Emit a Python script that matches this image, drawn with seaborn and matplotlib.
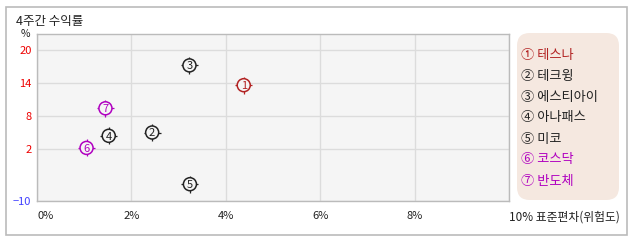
import matplotlib
matplotlib.use("Agg")
import matplotlib.pyplot as plt
import seaborn as sns
import pandas as pd
from matplotlib.patches import FancyBboxPatch, Rectangle

# ---- data ----
names = ["테스나", "테크윙", "에스티아이", "아나패스", "미코", "코스닥", "반도체"]
nums = ["1", "2", "3", "4", "5", "6", "7"]
circled = ["①", "②", "③", "④", "⑤", "⑥", "⑦"]
std_dev = [4.38, 2.44, 3.23, 1.52, 3.24, 1.05, 1.45]      # % (x)
returns = [13.6, 5.0, 17.2, 4.4, -4.4, 2.2, 9.4]          # % (y)
colors = ["#b22222", "#222222", "#222222", "#222222", "#222222", "#b000c0", "#b000c0"]
xticks = [0, 2, 4, 6, 8, 10]
xtick_labels = ["0%", "2%", "4%", "6%", "8%", "10% 표준편차(위험도)"]
ytick_vals = [20, 14, 8, 2]
ytick_labels = ["20", "14", "8", "2", "−10"]
title = "4주간 수익률"

sns.set_theme(style="white")
plt.rcParams["font.family"] = ["Noto Sans CJK KR", "DejaVu Sans"]

W, H = 638, 242
fig = plt.figure(figsize=(W / 100, H / 100), dpi=100)
fig.patch.set_facecolor("white")

def fx(px):
    return px / W

def fy(py):
    return 1 - py / H

# outer frame
fig.patches.append(Rectangle((fx(6), fy(235)), fx(621), 228 / H, transform=fig.transFigure,
                             fill=False, edgecolor="#bbbbbb", linewidth=1.2))

ax = fig.add_axes([fx(37), fy(201), fx(509 - 37), (201 - 34) / H])
ax.set_facecolor("#f5f5f5")

ymin = 2 - 52 / 5.5
ymax = 20 + 16 / 5.5
ax.set_xlim(0, 10)
ax.set_ylim(ymin, ymax)

df = pd.DataFrame({"x": std_dev, "y": returns, "name": names, "num": nums})
pal = dict(zip(names, colors))

# tick crosses behind
sns.scatterplot(data=df, x="x", y="y", hue="name", palette=pal, marker="+", s=150,
                linewidth=0.9, legend=False, ax=ax, zorder=3)
# circles
sns.scatterplot(data=df, x="x", y="y", hue="name", palette=pal, marker="o", s=88,
                facecolor="#f5f5f5", linewidth=1.1, legend=False, ax=ax, zorder=4)
for c in ax.collections[1:]:
    c.set_facecolor("#f5f5f5")
    c.set_edgecolor([colors[i] for i in range(len(names))])
for i in range(len(names)):
    ax.text(std_dev[i], returns[i], nums[i], ha="center", va="center_baseline",
            fontsize=8, color=colors[i], zorder=5)

ax.set_xticks(xticks)
ax.set_xticklabels(xtick_labels, fontsize=8, color="#222222")
lbls = ax.get_xticklabels()
lbls[0].set_ha("left")
lbls[-1].set_ha("left")
lbls[-1].set_fontsize(8.5)
lbls[-1].set_x(9.95)

ax.set_yticks(ytick_vals + [ymin])
ax.set_yticklabels(ytick_labels, fontsize=8)
for t, v in zip(ax.get_yticklabels(), ytick_vals + [ymin]):
    t.set_color("#ee0000" if v > 0 else "#4040ff")

ax.tick_params(axis="x", length=0, pad=7)
ax.tick_params(axis="y", length=0, pad=4)
ax.set_xlabel("")
ax.set_ylabel("")
ax.grid(True, color="#dcdcdc", linewidth=1)
ax.set_axisbelow(True)
for s in ax.spines.values():
    s.set_color("#bbbbbb")
    s.set_linewidth(1)

fig.text(fx(25), fy(34), "%", fontsize=7.5, ha="center", va="center", color="#222222")
fig.text(fx(16), fy(21), title, fontsize=9, ha="left", va="center", color="#222222")

# legend box
fig.patches.append(FancyBboxPatch((fx(517), fy(200)), fx(619 - 517), (200 - 33) / H,
                                  boxstyle="round,pad=0,rounding_size=0.02",
                                  transform=fig.transFigure, facecolor="#f5e8e0",
                                  edgecolor="none", mutation_aspect=W / H))
for i in range(len(names)):
    fig.text(fx(521), fy(55 + 21 * i), circled[i] + " " + names[i], fontsize=9.5,
             ha="left", va="center", color=colors[i])

fig.savefig("out.png", dpi=100, facecolor="white")
